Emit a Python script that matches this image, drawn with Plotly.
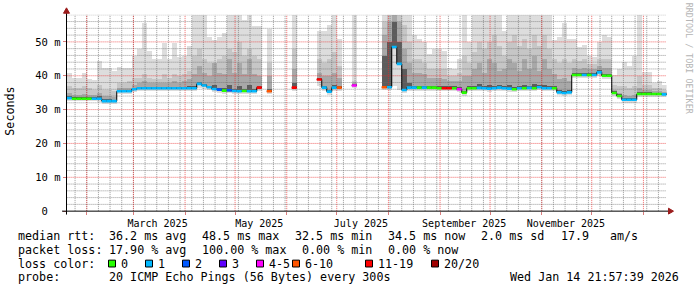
import plotly.graph_objects as go
from datetime import datetime, timedelta

# ---------------------------------------------------------------- data
x_start = datetime(2025, 1, 19, 21, 57, 39)
x_end = datetime(2026, 1, 14, 21, 57, 39)
first_bin = datetime(2025, 1, 20)
bin_days = 3

N = None
median_ms = [
    33.4, 33.2, 33.2, 33.2, 33.2, 33.2, 33.2, 32.5, 32.5, 32.5,
    35.4, 35.4, 35.4, 36.0, 36.3, 36.3, 36.3, 36.3, 36.3, 36.3,
    36.3, 36.3, 36.3, 36.3, 36.3, 36.3, 37.6, 37.1, 36.6, 36.1,
    35.9, 35.6, 35.7, 35.5, 35.4, 35.5, 35.4, 35.4, 36.5, N,
    35.4, N, N, N, N, 36.5, N, N, N, N,
    38.9, 36.5, 35.3, 36.5, 36.5, N, N, 37.1, N, N,
    N, N, N, 36.6, 36.6, 48.5, 43.5, 35.8, 36.5, 36.5,
    36.5, 36.5, 36.5, 36.5, 36.3, 36.3, 36.3, 36.3, 36.0, 35.0,
    36.3, 36.3, 36.4, 36.3, 36.2, 36.3, 36.5, 36.3, 36.2, 36.0,
    36.3, 36.3, 36.4, 36.3, 36.6, 36.3, 36.3, 36.3, 35.1, 34.9,
    35.1, 40.2, 40.2, 40.2, 40.2, 40.2, 41.0, 40.0, 40.0, 34.9,
    34.0, 32.9, 32.9, 32.9, 34.6, 34.6, 34.6, 34.6, 34.6, 34.5,
]
# index into loss_labels
loss_class = [
    1, 0, 0, 0, 0, 1, 1, 1, 1, 1,
    1, 1, 1, 1, 1, 1, 1, 1, 1, 1,
    1, 1, 1, 1, 1, 1, 1, 1, 1, 1,
    2, 0, 2, 1, 1, 0, 1, 1, 6, N,
    5, N, N, N, N, 6, N, N, N, N,
    6, 1, 1, 1, 5, N, N, 4, N, N,
    N, N, N, 5, 1, 1, 1, 1, 1, 1,
    0, 1, 0, 0, 0, 6, 6, 0, 4, 0,
    0, 0, 1, 1, 1, 1, 1, 1, 1, 0,
    1, 0, 1, 0, 1, 1, 1, 0, 1, 1,
    1, 0, 0, 1, 0, 1, 1, 0, 0, 0,
    0, 1, 1, 1, 0, 0, 0, 0, 0, 1,
]
min_ms = [
    32.6, 32.5, 32.5, 32.5, 32.5, 32.5, 32.4, 31.8, 31.8, 31.8,
    34.7, 34.7, 34.7, 35.3, 35.6, 35.6, 35.6, 35.6, 35.6, 35.6,
    35.6, 35.6, 35.6, 35.6, 35.6, 35.6, 36.6, 36.3, 35.9, 35.3,
    35.1, 34.8, 34.9, 34.7, 34.6, 34.7, 34.6, 34.6, 35.5, N,
    34.6, N, N, N, N, 35.6, N, N, N, N,
    37.2, 35.6, 34.5, 35.6, 35.6, N, N, 36.5, N, N,
    N, N, N, 35.8, 35.8, 37.0, 36.0, 35.0, 35.7, 35.7,
    35.7, 35.7, 35.7, 35.7, 35.5, 35.5, 35.5, 35.5, 35.2, 34.2,
    35.5, 35.5, 35.5, 35.5, 35.4, 35.5, 35.6, 35.5, 35.4, 35.2,
    35.5, 35.5, 35.5, 35.5, 35.8, 35.5, 35.5, 35.5, 34.3, 34.1,
    34.3, 39.4, 39.4, 39.4, 39.4, 39.4, 40.0, 39.2, 39.2, 34.1,
    33.2, 32.1, 32.1, 32.1, 33.8, 33.8, 33.8, 33.8, 33.8, 33.7,
]
smoke_max_ms = [
    41.0, 39.5, 39.5, 40.8, 39.2, 38.8, 44.5, 42.5, 42.5, 41.5,
    42.7, 42.4, 42.4, 46.0, 47.9, 55.8, 47.4, 45.0, 45.0, 49.8,
    45.0, 49.8, 45.5, 46.0, 48.9, 58.0, 58.0, 58.0, 51.4, 50.5,
    51.5, 52.8, 58.0, 58.0, 58.0, 56.6, 58.0, 54.8, 54.8, N,
    53.9, N, N, N, N, 58.0, N, N, N, N,
    53.2, 53.2, 55.0, 58.0, 50.8, N, N, 58.0, N, N,
    N, N, N, 58.0, 58.0, 58.0, 58.0, 58.0, 58.0, 52.0,
    51.0, 50.0, 46.5, 48.0, 47.9, 47.5, 42.5, 42.0, 45.0, 58.0,
    50.0, 58.0, 58.0, 58.0, 58.0, 58.0, 58.0, 53.2, 58.0, 58.0,
    58.0, 58.0, 58.0, 58.0, 58.0, 58.0, 58.0, 50.5, 51.5, 55.6,
    50.8, 50.8, 48.5, 49.3, 46.0, 45.7, 50.0, 52.2, 51.6, 40.2,
    42.0, 44.1, 43.0, 46.0, 58.0, 41.2, 41.2, 37.8, 38.5, 37.3,
]
smoke_q2_ms = [
    37.0, 36.5, 36.5, 37.0, 36.5, 36.0, 37.5, 36.0, 36.0, 35.5,
    38.0, 38.0, 38.5, 39.5, 39.5, 40.5, 39.5, 39.0, 39.0, 40.5,
    39.5, 40.5, 40.0, 40.5, 41.5, 46.0, 48.0, 45.0, 44.0, 44.0,
    45.0, 46.0, 48.0, 47.0, 50.0, 46.0, 48.0, 46.0, 45.0, N,
    44.0, N, N, N, N, 48.0, N, N, N, N,
    45.0, 44.0, 45.0, 47.0, 43.0, N, N, 38.5, N, N,
    N, N, N, 56.0, 58.0, 58.0, 58.0, 55.0, 50.0, 45.0,
    45.0, 44.0, 42.0, 42.0, 42.0, 42.0, 40.0, 40.0, 41.0, 46.0,
    44.0, 47.0, 50.0, 48.0, 50.0, 52.0, 49.0, 46.0, 50.0, 52.0,
    49.0, 51.0, 48.0, 52.0, 49.0, 52.0, 48.0, 45.0, 44.0, 45.0,
    44.0, 45.0, 44.5, 45.0, 43.5, 43.5, 45.0, 45.0, 45.0, 37.5,
    37.0, 37.0, 36.5, 37.0, 40.0, 37.5, 37.5, 36.5, 36.5, 36.0,
]
smoke_q3_ms = [
    35.0, 34.5, 34.5, 34.8, 34.5, 34.5, 35.0, 34.0, 34.0, 33.8,
    36.5, 36.5, 36.5, 37.5, 38.0, 38.5, 38.0, 37.8, 37.8, 38.0,
    38.0, 38.5, 38.0, 38.5, 39.0, 40.5, 43.0, 41.0, 40.0, 44.0,
    41.0, 40.5, 45.0, 41.0, 44.0, 40.5, 45.0, 40.5, 40.0, N,
    40.0, N, N, N, N, 42.0, N, N, N, N,
    41.0, 40.0, 40.0, 41.0, 39.5, N, N, 38.0, N, N,
    N, N, N, 52.0, 56.0, 58.0, 56.0, 48.0, 44.0, 41.0,
    41.0, 40.5, 39.5, 39.5, 39.5, 39.0, 38.5, 38.5, 38.5, 40.0,
    40.0, 42.0, 44.0, 41.0, 45.0, 44.0, 41.5, 42.0, 45.0, 44.0,
    41.5, 45.0, 42.0, 46.0, 41.5, 45.0, 42.0, 40.5, 39.0, 39.5,
    38.5, 42.5, 42.0, 42.5, 42.0, 42.0, 43.0, 42.5, 42.5, 36.0,
    35.0, 34.5, 34.0, 34.5, 36.5, 35.8, 35.8, 35.5, 35.5, 35.3,
]
smoke_q4_ms = [
    34.0, 33.8, 33.8, 33.8, 33.8, 33.8, 34.0, 33.2, 33.2, 33.0,
    36.0, 36.0, 36.0, 36.6, 36.9, 36.9, 36.9, 36.9, 36.9, 36.9,
    36.9, 36.9, 36.9, 36.9, 37.0, 37.2, 38.2, 37.7, 37.2, 37.5,
    36.6, 36.4, 37.4, 36.3, 37.2, 36.3, 37.4, 36.2, 37.2, N,
    36.2, N, N, N, N, 38.0, N, N, N, N,
    39.5, 37.2, 36.0, 37.3, 37.2, N, N, 37.5, N, N,
    N, N, N, 46.0, 50.0, 56.0, 50.0, 42.0, 38.0, 37.2,
    37.2, 37.2, 37.2, 37.2, 37.0, 37.0, 37.0, 37.0, 36.7, 35.7,
    37.0, 37.2, 37.6, 37.0, 37.5, 37.1, 37.3, 37.0, 37.4, 36.8,
    37.0, 37.5, 37.1, 37.6, 37.3, 37.4, 37.1, 37.0, 35.8, 35.6,
    35.8, 41.0, 41.0, 41.0, 41.0, 41.0, 41.8, 40.7, 40.7, 35.5,
    34.6, 33.5, 33.5, 33.5, 35.3, 35.2, 35.2, 35.1, 35.1, 35.0,
]

loss_labels = ["0", "1", "2", "3", "4-5", "6-10", "11-19", "20/20"]
loss_colors = ["#26ff00", "#00b8ff", "#0059ff", "#5e00ff",
               "#ff00ff", "#ff5500", "#ff0000", "#a00000"]
smoke_colors = ["#dddddd", "#c6c6c6", "#a8a8a8", "#5c5c5c"]

y_tick_vals = [0, 10, 20, 30, 40, 50]
y_tick_text = ["0\u00a0\u00a0", "10 m", "20 m", "30 m", "40 m", "50 m"]
x_label_dates = [datetime(2025, 3, 15, 12), datetime(2025, 5, 15, 12),
                 datetime(2025, 7, 15, 12), datetime(2025, 9, 15, 12),
                 datetime(2025, 11, 15, 12)]
x_label_text = ["March 2025", "May 2025", "July 2025",
                "September 2025", "November 2025"]

rtt_row = ["median rtt:", "36.2 ms avg", "48.5 ms max", "32.5 ms min",
           "34.5 ms now", "2.0 ms sd", "17.9", "am/s"]
loss_row = ["packet loss:", "17.90 % avg", "100.00 % max", "0.00 % min",
            "0.00 % now"]
probe_row = ["probe:", "20 ICMP Echo Pings (56 Bytes) every 300s"]
stamp_text = "Wed Jan 14 21:57:39 2026"

# ---------------------------------------------------------------- layout geometry
W, H = 697, 297
BOX_L, BOX_R, BOX_T, BOX_B = 66.6, 666.6, 15.0, 215.5
y_top = 58.03
MONO = "DejaVu Sans Mono"


def px(x):
    return x / W


def py(y):
    return 1 - y / H


starts = [first_bin + timedelta(days=bin_days * k) for k in range(len(median_ms))]
bin_ms = bin_days * 86400000

fig = go.Figure()


def band(lower, upper, color):
    base, h = [], []
    for lo, up in zip(lower, upper):
        if lo is None or up is None:
            base.append(None)
            h.append(None)
        else:
            base.append(lo)
            h.append(up - lo)
    fig.add_trace(go.Bar(x=starts, y=h, base=base, width=bin_ms, offset=0,
                         marker=dict(color=color, line=dict(width=0)),
                         hoverinfo="skip", showlegend=False))


band(min_ms, smoke_max_ms, smoke_colors[0])
band(median_ms, smoke_q2_ms, smoke_colors[1])
band(median_ms, smoke_q3_ms, smoke_colors[2])
band(median_ms, smoke_q4_ms, smoke_colors[3])

# ---------------------------------------------------------------- grid (drawn above smoke)
months = []
yy, mm = 2025, 1
while True:
    d = datetime(yy, mm, 1)
    if d > x_end:
        break
    if d > x_start:
        months.append(d)
    mm += 1
    if mm > 12:
        mm, yy = 1, yy + 1
weeks = []
d = datetime(2025, 1, 25)
while d < x_end:
    weeks.append(d)
    d += timedelta(days=7)

MINOR = "rgba(110,110,110,0.7)"
MAJOR = "rgba(235,40,40,0.7)"


def vlines(dates, color):
    xs, ys = [], []
    for dd in dates:
        xs += [dd, dd, None]
        ys += [0, y_top, None]
    fig.add_trace(go.Scatter(x=xs, y=ys, mode="lines", hoverinfo="skip",
                             showlegend=False,
                             line=dict(color=color, width=1, dash="1px,1px")))


def hlines(vals, color):
    xs, ys = [], []
    for v in vals:
        xs += [x_start, x_end, None]
        ys += [v, v, None]
    fig.add_trace(go.Scatter(x=xs, y=ys, mode="lines", hoverinfo="skip",
                             showlegend=False,
                             line=dict(color=color, width=1, dash="1px,1px")))


vlines(weeks, MINOR)
hlines([v for v in range(2, 59, 2) if v % 10], MINOR)
vlines(months, MAJOR)
hlines([v for v in y_tick_vals if v > 0], MAJOR)

# ---------------------------------------------------------------- median line
mxs, mys = [], []
for k, m in enumerate(median_ms):
    if m is None:
        mxs.append(None)
        mys.append(None)
        continue
    mxs += [starts[k], starts[k] + timedelta(days=bin_days)]
    mys += [m, m]
fig.add_trace(go.Scatter(x=mxs, y=mys, mode="lines", hoverinfo="skip",
                         showlegend=False,
                         line=dict(color="#000000", width=1)))

for c, col in enumerate(loss_colors):
    xs, ys = [], []
    for k, m in enumerate(median_ms):
        if m is None or loss_class[k] != c:
            continue
        xs += [starts[k], starts[k] + timedelta(days=bin_days), None]
        ys += [m, m, None]
    if xs:
        fig.add_trace(go.Scatter(x=xs, y=ys, mode="lines", hoverinfo="skip",
                                 showlegend=False,
                                 line=dict(color=col, width=2.6)))

# dummy trace so the label axis exists
fig.add_trace(go.Scatter(x=[x_start], y=[None], xaxis="x2", yaxis="y",
                         mode="markers", hoverinfo="skip", showlegend=False))

# ---------------------------------------------------------------- axes
fig.update_layout(
    width=W, height=H, autosize=False,
    margin=dict(l=0, r=0, t=0, b=0, pad=0),
    paper_bgcolor="white", plot_bgcolor="white",
    barmode="overlay", bargap=0, bargroupgap=0,
    showlegend=False,
    xaxis=dict(type="date", range=[x_start, x_end],
               domain=[px(BOX_L), px(BOX_R)], anchor="y",
               showgrid=False, zeroline=False, showline=False,
               tickmode="array", tickvals=months, showticklabels=False,
               ticks="outside", ticklen=3, tickcolor="rgba(200,70,70,0.7)",
               tickwidth=1),
    xaxis2=dict(type="date", range=[x_start, x_end], overlaying="x",
                anchor="y", side="bottom",
                domain=[px(BOX_L), px(BOX_R)],
                showgrid=False, zeroline=False, showline=False,
                tickmode="array", tickvals=x_label_dates,
                ticktext=x_label_text, ticks="",
                tickfont=dict(family=MONO, size=10, color="#000"),
                ticklabelstandoff=5),
    yaxis=dict(range=[0, y_top], domain=[py(BOX_B), py(BOX_T)],
               showgrid=False, zeroline=False, showline=False,
               tickmode="array", tickvals=y_tick_vals, ticktext=y_tick_text,
               ticks="outside", ticklen=3, tickcolor="rgba(200,70,70,0.7)",
               tickfont=dict(family=MONO, size=10.5, color="#000"),
               ticklabelstandoff=0),
)

shapes = []
# axis lines and arrows
shapes.append(dict(type="line", xref="paper", yref="paper",
                   x0=px(62), x1=px(668.5), y0=py(215.5), y1=py(215.5),
                   line=dict(color="#000000", width=1)))
shapes.append(dict(type="line", xref="paper", yref="paper",
                   x0=px(66.5), x1=px(66.5), y0=py(219), y1=py(12),
                   line=dict(color="#000000", width=1)))
ARROW = "#9b1c1c"


def tri(pts):
    path = "M " + " L ".join(f"{px(a):.5f},{py(b):.5f}" for a, b in pts) + " Z"
    return dict(type="path", xref="paper", yref="paper", path=path,
                fillcolor=ARROW, line=dict(color=ARROW, width=1))


shapes.append(tri([(63.5, 13.5), (69.5, 13.5), (66.5, 8.0)]))
shapes.append(tri([(668.5, 212.5), (668.5, 218.5), (673.5, 215.5)]))

# legend swatches
swatch_left = [108.5, 145.5, 182.5, 219.5, 256.5, 292.5, 365.5, 431.5]
for xl, col in zip(swatch_left, loss_colors):
    shapes.append(dict(type="rect", xref="paper", yref="paper",
                       x0=px(xl), x1=px(xl + 7), y0=py(265.5), y1=py(272.5),
                       fillcolor=col, line=dict(color="#000000", width=1)))
fig.update_layout(shapes=shapes)

ann = []


def text(x, y, s, anchor="left", size=11.7, color="#000", angle=0, family=MONO):
    ann.append(dict(x=px(x), y=py(y), xref="paper", yref="paper", text=s,
                    showarrow=False, xanchor=anchor, yanchor="middle",
                    textangle=angle,
                    font=dict(family=family, size=size, color=color)))


rtt_x = [16, 107.3, 200, 292.7, 386, 479.3, 559, 607.7]
for x, s in zip(rtt_x, rtt_row):
    text(x, 241, s)
loss_x = [16, 107.3, 200, 300, 386]
for x, s in zip(loss_x, loss_row):
    text(x, 255, s)
text(16, 269, "loss color:")
for xl, lab in zip(swatch_left, loss_labels):
    text(xl + 10.5, 269, lab)
text(16, 283, probe_row[0])
text(107.3, 283, probe_row[1])
text(681, 283, stamp_text, anchor="right")

ann.append(dict(x=px(10), y=py(114), xref="paper", yref="paper",
                text="Seconds", showarrow=False, textangle=-90,
                xanchor="center", yanchor="middle",
                font=dict(family=MONO, size=11.7, color="#000")))
ann.append(dict(x=px(689), y=py(60), xref="paper", yref="paper",
                text="RRDTOOL / TOBI OETIKER", showarrow=False, textangle=90,
                xanchor="center", yanchor="middle",
                font=dict(family=MONO, size=8.4, color="#b4b4b4")))
fig.update_layout(annotations=ann)

fig.write_html("out.html")
